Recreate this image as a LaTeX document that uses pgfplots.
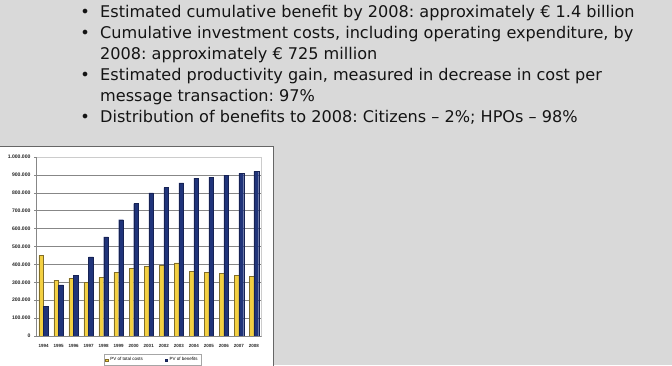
\documentclass[border=0pt]{standalone}
\usepackage{fontspec}
\setmainfont{DejaVu Sans}
\newfontfamily\chartfont{Liberation Sans}
\usepackage{pgfplots}
\pgfplotsset{compat=1.18}

\definecolor{slidebg}{RGB}{217,217,217}
\definecolor{costfill}{RGB}{243,208,66}
\definecolor{costedge}{RGB}{130,110,40}
\definecolor{benefill}{RGB}{32,52,122}
\definecolor{beneedge}{RGB}{22,34,84}
\definecolor{bodytext}{RGB}{20,20,20}
\definecolor{gridgray}{RGB}{135,135,135}

% small square swatch for the legend
\pgfplotsset{swatch legend/.style={legend image code/.code={\draw[##1] (0pt,-1.3pt) rectangle (2.6pt,1.3pt);}}}

\begin{document}
\frenchspacing
\begin{tikzpicture}[x=1pt,y=1pt]
\useasboundingbox (0,0) rectangle (672,365);
\fill[slidebg] (0,0) rectangle (672,365);

% bullet list
\begin{scope}[every node/.style={inner sep=0pt, text=bodytext, font=\fontsize{16.1}{18}\selectfont}]
  \node[anchor=base] at (85,347) {•};
  \node[anchor=base west] at (100,347) {Estimated cumulative benefit by 2008: approximately € 1.4 billion};
  \node[anchor=base] at (85,326.2) {•};
  \node[anchor=base west] at (100,326.2) {Cumulative investment costs, including operating expenditure, by};
  \node[anchor=base west] at (100,305.4) {2008: approximately € 725 million};
  \node[anchor=base] at (85,284.6) {•};
  \node[anchor=base west] at (100,284.6) {Estimated productivity gain, measured in decrease in cost per};
  \node[anchor=base west] at (100,263.8) {message transaction: 97\%};
  \node[anchor=base] at (85,243) {•};
  \node[anchor=base west] at (100,243) {Distribution of benefits to 2008: Citizens – 2\%; HPOs – 98\%};
\end{scope}

% chart panel
\filldraw[fill=white, draw=gray!80!black, line width=0.8pt] (-2,-2) rectangle (273,219);

\begin{axis}[
  at={(36pt,29pt)}, anchor=south west,
  scale only axis, width=225.5pt, height=179pt,
  ybar=0pt, bar width=4.7pt,
  xmin=-0.5, xmax=14.5, ymin=0, ymax=1000000,
  xtick={0,...,14},
  xticklabels={1994,1995,1996,1997,1998,1999,2000,2001,2002,2003,2004,2005,2006,2007,2008},
  ytick={0,100000,...,1000000},
  ytick pos=left,
  scaled y ticks=false,
  /pgf/number format/assume math mode=true,
  yticklabel style={/pgf/number format/.cd, fixed, 1000 sep={.}},
  ticklabel style={font=\chartfont\bfseries\fontsize{5.1}{6}\selectfont, text=black!85},
  xticklabel style={font=\chartfont\bfseries\fontsize{4.5}{5}\selectfont, yshift=-2.5pt},
  xtick style={draw=none},
  ytick style={draw=gridgray, line width=0.5pt},
  tick align=outside, major tick length=2pt,
  ymajorgrids, grid style={gridgray, line width=0.5pt},
  axis line style={gray!40, line width=0.5pt},
  legend style={at={(0.517,-0.134)}, anchor=center, legend columns=2,
    draw=gray!70, line width=0.4pt, inner sep=1pt,
    font=\chartfont\fontsize{4.5}{5}\selectfont,
    /tikz/every even column/.append style={column sep=20pt}},
]
\addplot[fill=costfill, draw=costedge, line width=0.3pt, swatch legend]
  coordinates {(0,450000) (1,312000) (2,323000) (3,300000) (4,327000)
    (5,355000) (6,379000) (7,390000) (8,396000) (9,409000)
    (10,361000) (11,355000) (12,349000) (13,340000) (14,335000)};
\addplot[fill=benefill, draw=beneedge, line width=0.3pt, swatch legend]
  coordinates {(0,165000) (1,286000) (2,340000) (3,442000) (4,554000)
    (5,650000) (6,740000) (7,800000) (8,829000) (9,855000)
    (10,882000) (11,888000) (12,899000) (13,908000) (14,920000)};
\legend{PV of total costs, PV of benefits}
% darker left and bottom axis lines
\draw[gridgray, line width=0.6pt] (rel axis cs:0,1) -- (rel axis cs:0,0) -- (rel axis cs:1,0);
\end{axis}
\end{tikzpicture}
\end{document}
